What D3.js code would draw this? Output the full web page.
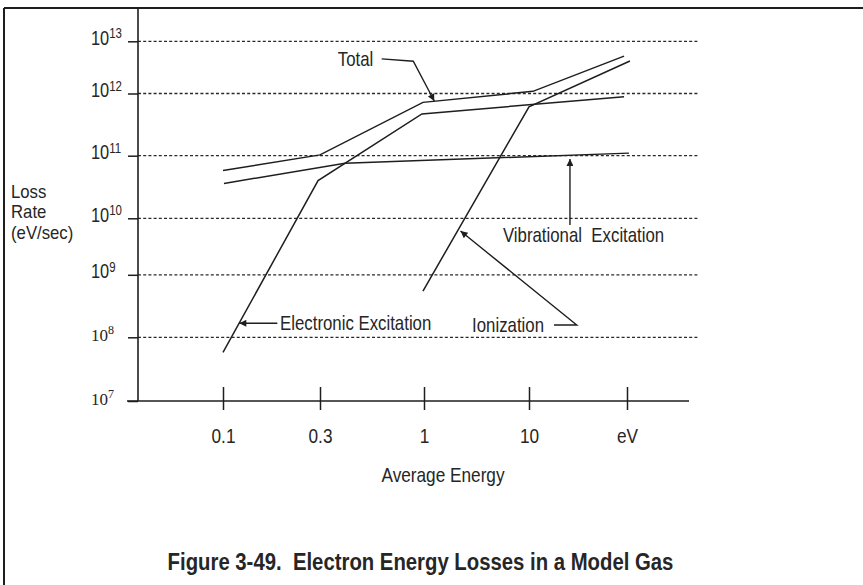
<!DOCTYPE html>
<html>
<head>
<meta charset="utf-8">
<script src="https://cdn.jsdelivr.net/npm/d3@7/dist/d3.min.js"></script>
<style>
  html, body { margin: 0; padding: 0; background: #fff; }
  svg { display: block; }
  text { font-family: "Liberation Sans", Arial, Helvetica, sans-serif; fill: #262626; }
</style>
</head>
<body>
<svg id="chart" width="863" height="585"></svg>
<script>
// ---- data ----
const xTickLabels = ["0.1", "0.3", "1", "10", "eV"];
const yExponents = [7, 8, 9, 10, 11, 12, 13];

const totalX = [0, 1, 1.99, 3.04, 3.97];
const totalY = [5.8e10, 1.03e11, 7.2e11, 1.1e12, 5.2e12];
const electronicX = [0, 0.98, 1.98, 3.97];
const electronicY = [5.8e7, 4.0e10, 4.7e11, 8.9e11];
const ionizationX = [1.99, 3.0, 4.03];
const ionizationY = [5.5e8, 6.1e11, 4.2e12];
const vibrationalX = [0.01, 1.24, 4.02];
const vibrationalY = [3.6e10, 7.6e10, 1.1e11];

// annotation anchors: [x index, log10 value]
const annotations = [
  { text: "Total", anchor: "end", label: [1.512, 12.663], path: [[1.593, 12.663], [1.897, 12.619], [2.098, 11.879]] },
  { text: "Vibrational\u00A0 Excitation", anchor: "start", label: [2.752, 9.704], path: [[3.418, 9.881], [3.418, 10.947]] },
  { text: "Ionization", anchor: "end", label: [3.153, 8.197], path: [[3.255, 8.197], [3.487, 8.197], [2.348, 9.775]] },
  { text: "Electronic Excitation", anchor: "start", label: [0.588, 8.224], path: [[0.560, 8.224], [0.168, 8.224]] }
];

// ---- scales ----
const svg = d3.select("#chart");
const x = d3.scaleLinear().domain([0, 1, 2, 3, 4]).range([223, 320, 424, 529, 627]);
const y = d3.scaleLog().domain(yExponents.map(e => Math.pow(10, e)))
  .range([401, 337.3, 274.8, 218.3, 155.7, 93.5, 41.3]);
const axisLeftX = 138, axisBottomY = y(1e7);
const ink = "#1e1e1e";
const SX = 0.82; // horizontal condensation (narrow sans)

function ctext(parent, tx, ty, str, size, anchor, weight) {
  return parent.append("text")
    .attr("transform", `translate(${tx},${ty}) scale(${SX},1)`)
    .attr("text-anchor", anchor || "start")
    .style("font-size", size + "px")
    .style("font-weight", weight || "normal")
    .text(str);
}

// frame
svg.append("line").attr("x1", 4).attr("x2", 863).attr("y1", 8).attr("y2", 8)
  .attr("stroke", ink).attr("stroke-width", 2);
svg.append("line").attr("x1", 4).attr("x2", 4).attr("y1", 8).attr("y2", 585)
  .attr("stroke", ink).attr("stroke-width", 2);

// gridlines
svg.append("g").selectAll("line").data(yExponents.slice(1)).join("line")
  .attr("x1", axisLeftX).attr("x2", 698)
  .attr("y1", e => y(Math.pow(10, e))).attr("y2", e => y(Math.pow(10, e)))
  .attr("stroke", "#2a2a2a").attr("stroke-width", 1.3).attr("stroke-dasharray", "3,2.2");

// y axis
const yAxis = d3.axisLeft(y).tickValues(yExponents.map(e => Math.pow(10, e))).tickSize(10).tickFormat("");
const gy = svg.append("g").attr("transform", `translate(${axisLeftX},0)`).call(yAxis);
gy.select(".domain").remove();
gy.selectAll(".tick line").attr("stroke", ink).attr("stroke-width", 1.5);
svg.append("line").attr("x1", axisLeftX).attr("x2", axisLeftX).attr("y1", 8).attr("y2", axisBottomY)
  .attr("stroke", ink).attr("stroke-width", 1.6);

// y tick labels
const ylg = svg.append("g");
yExponents.forEach(e => {
  const serif = e <= 8;
  const t = ylg.append("text")
    .attr("transform", `translate(91,${y(Math.pow(10, e)) + 3.5}) scale(${serif ? 1 : SX},1)`)
    .style("font-family", serif ? "'Liberation Serif', 'Times New Roman', serif" : null)
    .style("font-size", serif ? "17px" : "20px");
  t.append("tspan").text("10");
  t.append("tspan").attr("dy", -6.5).style("font-size", serif ? "12px" : "14px").text(e);
});

// x axis
const xAxis = d3.axisBottom(x).tickValues([0, 1, 2, 3, 4]).tickFormat(i => xTickLabels[i]).tickSize(0);
const gx = svg.append("g").attr("transform", `translate(0,${axisBottomY})`).call(xAxis);
gx.attr("font-family", null).attr("font-size", null);
gx.select(".domain").remove();
gx.selectAll(".tick line").attr("y1", -14).attr("y2", 9).attr("stroke", ink).attr("stroke-width", 1.5);
gx.selectAll(".tick text").attr("y", 0).attr("dy", 0).attr("fill", null)
  .attr("transform", `translate(0,41.5) scale(${SX},1)`)
  .style("font-size", "21px");
svg.append("line").attr("x1", 127).attr("x2", 689).attr("y1", axisBottomY).attr("y2", axisBottomY)
  .attr("stroke", ink).attr("stroke-width", 1.6);

// axis titles
ctext(svg, 443, 482, "Average Energy", 21, "middle");
const yTitle = ["Loss", "Rate", "(eV/sec)"];
const yt = svg.append("text")
  .attr("transform", `translate(11,198) scale(0.93,1)`)
  .style("font-size", "18px");
yt.selectAll("tspan").data(yTitle).join("tspan")
  .attr("x", 0).attr("dy", (d, i) => i === 0 ? 0 : 20.4).text(d => d);

// series lines
const line = d3.line().x(d => x(d[0])).y(d => y(d[1]));
const series = [
  [totalX, totalY], [electronicX, electronicY], [ionizationX, ionizationY], [vibrationalX, vibrationalY]
];
svg.append("g").selectAll("path").data(series).join("path")
  .attr("d", s => line(s[0].map((v, i) => [v, s[1][i]])))
  .attr("fill", "none").attr("stroke", ink).attr("stroke-width", 1.5);

// arrowhead marker
svg.append("defs").append("marker").attr("id", "arr")
  .attr("viewBox", "0 0 10 10").attr("refX", 10).attr("refY", 5)
  .attr("markerWidth", 10).attr("markerHeight", 7).attr("markerUnits", "userSpaceOnUse")
  .attr("orient", "auto")
  .append("path").attr("d", "M0,0 L10,5 L0,10 Z").attr("fill", ink);

// annotations
const ann = svg.append("g");
annotations.forEach(a => {
  ctext(ann, x(a.label[0]), y(Math.pow(10, a.label[1])) + 7, a.text, 20.5, a.anchor);
  ann.append("path")
    .attr("d", d3.line()(a.path.map(p => [x(p[0]), y(Math.pow(10, p[1]))])))
    .attr("fill", "none").attr("stroke", ink).attr("stroke-width", 1.4)
    .attr("marker-end", "url(#arr)");
});

// title
ctext(svg, 420.5, 570, "Figure 3-49.\u00A0 Electron Energy Losses in a Model Gas", 24.8, "middle", "bold");
</script>
</body>
</html>
